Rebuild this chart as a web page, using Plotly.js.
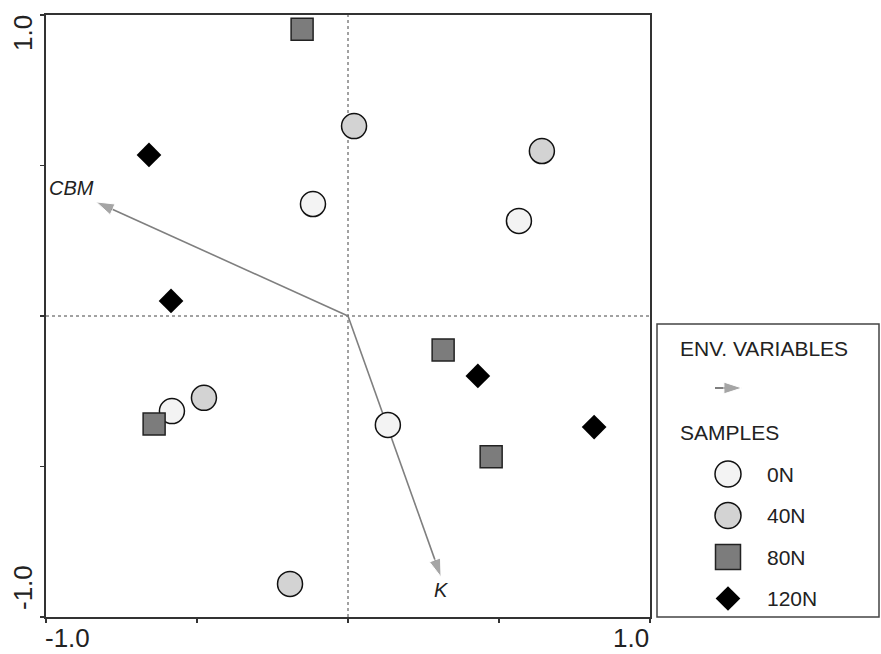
<!DOCTYPE html>
<html>
<head>
<meta charset="utf-8">
<script src="https://cdn.plot.ly/plotly-3.0.1.min.js"></script>
<style>
  html, body { margin: 0; padding: 0; background: #ffffff; }
  #chart { width: 881px; height: 654px; }
</style>
</head>
<body>
<div id="chart"></div>
<script>
// Ordination biplot: sample scores by nitrogen rate plus environmental vectors.

// Sample groups
const groupNames = ['0N', '40N', '80N', '120N'];

// Sample scores (axis 1, axis 2) for each group
const x0N = [-0.116, 0.566, -0.583, 0.132];
const y0N = [0.372, 0.316, -0.316, -0.362];

const x40N = [0.020, 0.642, -0.477, -0.192];
const y40N = [0.631, 0.548, -0.272, -0.890];

const x80N = [-0.152, 0.315, -0.642, 0.474];
const y80N = [0.953, -0.113, -0.359, -0.468];

const x120N = [-0.659, -0.586, 0.430, 0.815];
const y120N = [0.535, 0.050, -0.199, -0.369];

// Environmental variable vectors (tip coordinates)
const envNames = ['CBM', 'K'];
const envX = [-0.834, 0.308];
const envY = [0.379, -0.867];

// Axis tick labels
const tickVals = [-1, -0.5, 0, 0.5, 1];
const endLabels = ['-1.0', '1.0'];

// Legend headings
const legendHeads = ['ENV. VARIABLES', 'SAMPLES'];

// ---------- styling ----------
const FONT = 'Liberation Sans, Arial, sans-serif';
const seriesX = [x0N, x40N, x80N, x120N];
const seriesY = [y0N, y40N, y80N, y120N];
const styles = [
  { symbol: 'circle',  size: 25, color: '#f3f3f3', line: { color: '#111', width: 1.5 } },
  { symbol: 'circle',  size: 25, color: '#d3d3d3', line: { color: '#111', width: 1.5 } },
  { symbol: 'square',  size: 22, color: '#7c7c7c', line: { color: '#222', width: 1.5 } },
  { symbol: 'diamond', size: 19, color: '#000000', line: { color: '#000', width: 0 } }
];
const legendSizes = [26, 26, 25, 19];
const arrowGrey = '#7f7f7f';
const HEAD = 19;

const traces = [];

// Environmental vectors: shaft from origin, arrowhead at tip
envNames.forEach((name, i) => {
  traces.push({
    type: 'scatter', mode: 'lines+markers',
    x: [0, envX[i]], y: [0, envY[i]],
    line: { color: arrowGrey, width: 1.6 },
    marker: { symbol: 'arrow', angleref: 'previous', size: [0, HEAD], color: arrowGrey },
    hoverinfo: 'skip', showlegend: false, xaxis: 'x', yaxis: 'y'
  });
});

// Sample points
groupNames.forEach((name, i) => {
  const s = styles[i];
  traces.push({
    type: 'scatter', mode: 'markers', name: name,
    x: seriesX[i], y: seriesY[i],
    marker: { symbol: s.symbol, size: s.size, color: s.color, line: s.line },
    showlegend: false, xaxis: 'x', yaxis: 'y'
  });
});

// ---------- legend panel (own axes, pixel-like units, y downward) ----------
const LEG_W = 222, LEG_H = 293;
const legItemX = 71, legTextX = 108, legFirstY = 150, legStep = 41.5;

traces.push({
  type: 'scatter', mode: 'lines+markers',
  x: [58, 85], y: [64, 64],
  line: { color: arrowGrey, width: 2 },
  marker: { symbol: 'arrow', angleref: 'previous', size: [0, HEAD], color: arrowGrey },
  hoverinfo: 'skip', showlegend: false, xaxis: 'x2', yaxis: 'y2'
});

groupNames.forEach((name, i) => {
  const s = styles[i];
  traces.push({
    type: 'scatter', mode: 'markers',
    x: [legItemX], y: [legFirstY + i * legStep],
    marker: { symbol: s.symbol, size: legendSizes[i], color: s.color, line: s.line },
    hoverinfo: 'skip', showlegend: false, xaxis: 'x2', yaxis: 'y2'
  });
});

const annotations = [];

// Vector labels
const envLabelShift = [[-25, 14], [0, -13]];
envNames.forEach((name, i) => {
  annotations.push({
    x: envX[i], y: envY[i], xref: 'x', yref: 'y',
    text: name, showarrow: false,
    xshift: envLabelShift[i][0], yshift: envLabelShift[i][1],
    font: { family: FONT, size: 20, color: '#222', style: 'italic' }
  });
});

// Axis end labels
annotations.push(
  { x: -1, y: 0, xref: 'x', yref: 'paper', text: endLabels[0], showarrow: false,
    xanchor: 'left', yanchor: 'top', xshift: -3, yshift: -4,
    font: { family: FONT, size: 26, color: '#222' } },
  { x: 1, y: 0, xref: 'x', yref: 'paper', text: endLabels[1], showarrow: false,
    xanchor: 'right', yanchor: 'top', xshift: 1, yshift: -4,
    font: { family: FONT, size: 26, color: '#222' } },
  { x: 0, y: 1, xref: 'paper', yref: 'y', text: endLabels[1], showarrow: false,
    textangle: -90, xanchor: 'center', yanchor: 'middle', xshift: -23, yshift: -18,
    font: { family: FONT, size: 26, color: '#222' } },
  { x: 0, y: -1, xref: 'paper', yref: 'y', text: endLabels[0], showarrow: false,
    textangle: -90, xanchor: 'center', yanchor: 'middle', xshift: -23, yshift: 29,
    font: { family: FONT, size: 26, color: '#222' } }
);

// Legend texts
annotations.push(
  { x: 21, y: 24, xref: 'x2', yref: 'y2', text: legendHeads[0], showarrow: false,
    xanchor: 'left', yanchor: 'middle', font: { family: FONT, size: 21, color: '#222' } },
  { x: 21, y: 108, xref: 'x2', yref: 'y2', text: legendHeads[1], showarrow: false,
    xanchor: 'left', yanchor: 'middle', font: { family: FONT, size: 21, color: '#222' } }
);
groupNames.forEach((name, i) => {
  annotations.push({
    x: legTextX, y: legFirstY + i * legStep, xref: 'x2', yref: 'y2',
    text: name, showarrow: false, xanchor: 'left', yanchor: 'middle',
    font: { family: FONT, size: 21, color: '#222' }
  });
});

const PAPER_W = 835, PLOT_W = 604, PLOT_H = 602;

const axisCommon = {
  range: [-1, 1], showgrid: false, zeroline: false,
  showline: true, mirror: true, linecolor: '#333', linewidth: 1.6,
  ticks: 'outside', ticklen: 4, tickwidth: 1.5, tickcolor: '#333',
  tickvals: tickVals, showticklabels: false, fixedrange: true
};

const layout = {
  width: 881, height: 654,
  margin: { l: 46, r: 0, t: 15, b: 37 },
  paper_bgcolor: '#ffffff', plot_bgcolor: '#ffffff',
  showlegend: false,
  font: { family: FONT, color: '#222' },
  xaxis: Object.assign({}, axisCommon, { domain: [0, PLOT_W / PAPER_W], anchor: 'y' }),
  yaxis: Object.assign({}, axisCommon, { domain: [0, 1], anchor: 'x' }),
  xaxis2: { domain: [(657 - 46) / PAPER_W, (879 - 46) / PAPER_W], range: [0, LEG_W],
            visible: false, fixedrange: true, anchor: 'y2' },
  yaxis2: { domain: [0, (617 - 324) / PLOT_H], range: [LEG_H, 0],
            visible: false, fixedrange: true, anchor: 'x2' },
  shapes: [
    { type: 'line', xref: 'x', yref: 'y', x0: 0, x1: 0, y0: -1, y1: 1, layer: 'below',
      line: { color: '#444', width: 1, dash: 'dot' } },
    { type: 'line', xref: 'x', yref: 'y', x0: -1, x1: 1, y0: 0, y1: 0, layer: 'below',
      line: { color: '#444', width: 1, dash: 'dot' } },
    { type: 'rect', xref: 'x2 domain', yref: 'y2 domain', x0: 0, x1: 1, y0: 0, y1: 1,
      line: { color: '#444', width: 1.5 }, fillcolor: 'rgba(0,0,0,0)' }
  ],
  annotations: annotations
};

Plotly.newPlot('chart', traces, layout, { staticPlot: true, displayModeBar: false });
</script>
</body>
</html>
